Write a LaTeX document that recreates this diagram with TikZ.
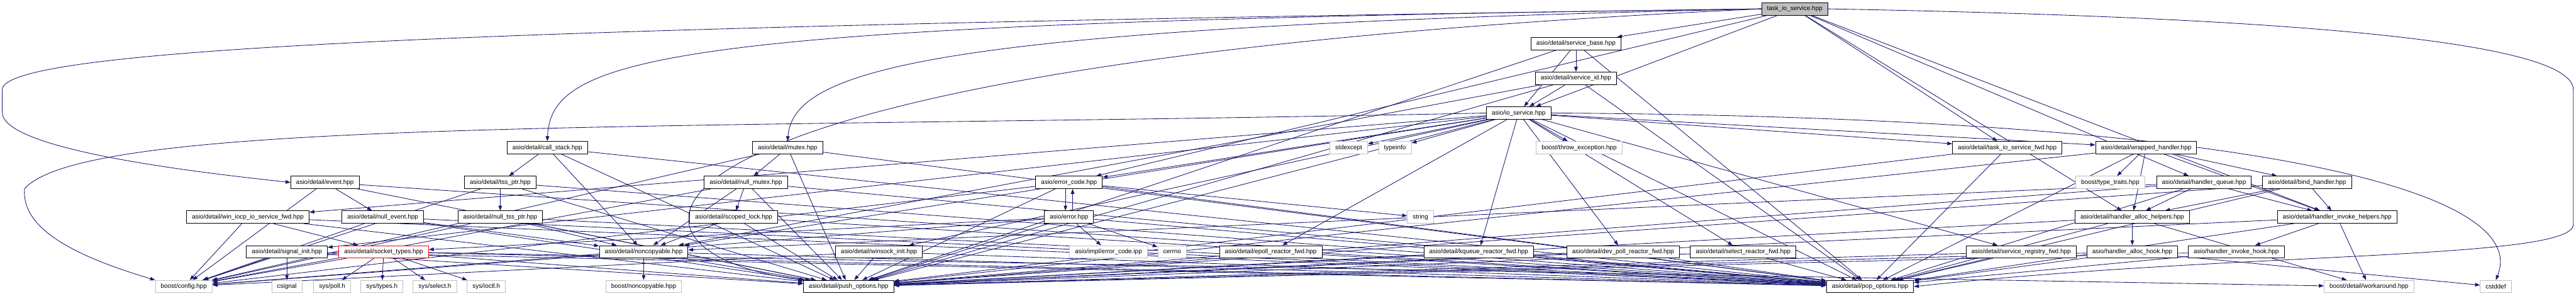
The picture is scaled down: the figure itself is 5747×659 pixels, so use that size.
\documentclass[tikz,border=0pt]{standalone}
\usepackage{fontspec}
\setmainfont{Liberation Sans}
\usetikzlibrary{arrows.meta,backgrounds}
\definecolor{depblue}{HTML}{191970}
\definecolor{extgray}{HTML}{BFBFBF}

\begin{document}
\begin{tikzpicture}[
    x=1pt, y=-1pt,
    font=\fontsize{14}{16}\selectfont,
    file/.style={draw=black, line width=1.3pt, fill=white, minimum height=27.7pt, inner xsep=12pt, inner ysep=0pt},
    extfile/.style={file, draw=extgray},
    cutfile/.style={file, draw=red},
    rootfile/.style={file, fill=extgray},
    dep/.style={-{Triangle[length=11pt, width=8pt]}, draw=depblue, line width=1.2pt}
  ]
    \useasboundingbox (0,0) rectangle (5747,659);

    \node[rootfile] (tios) at (4004,19.8) {task\_io\_service.hpp};
    \node[file] (sbase) at (3516,97) {asio/detail/service\_base.hpp};
    \node[file] (sid) at (3516,174.4) {asio/detail/service\_id.hpp};
    \node[file] (ios) at (3388,251.8) {asio/io\_service.hpp};

    \node[file] (cstack) at (1221,329) {asio/detail/call\_stack.hpp};
    \node[file] (mtx) at (1757,329) {asio/detail/mutex.hpp};
    \node[extfile] (stdexc) at (3009,329) {stdexcept};
    \node[extfile] (tinfo) at (3112,329) {typeinfo};
    \node[extfile] (throwexc) at (3523,329) {boost/throw\_exception.hpp};
    \node[file] (tiosfwd) at (4478,329) {asio/detail/task\_io\_service\_fwd.hpp};
    \node[file] (wraph) at (4788,329) {asio/detail/wrapped\_handler.hpp};

    \node[file] (evt) at (725,406.4) {asio/detail/event.hpp};
    \node[file] (tss) at (1116,406.4) {asio/detail/tss\_ptr.hpp};
    \node[file] (nmtx) at (1664,406.4) {asio/detail/null\_mutex.hpp};
    \node[file] (ecode) at (2385,406.4) {asio/error\_code.hpp};
    \node[extfile] (ttraits) at (4708,406.4) {boost/type\_traits.hpp};
    \node[file] (hqueue) at (4917,406.4) {asio/detail/handler\_queue.hpp};
    \node[file] (bindh) at (5147,406.4) {asio/detail/bind\_handler.hpp};

    \node[file] (iocpfwd) at (553,483.8) {asio/detail/win\_iocp\_io\_service\_fwd.hpp};
    \node[file] (nevt) at (854,483.8) {asio/detail/null\_event.hpp};
    \node[file] (ntss) at (1116,483.8) {asio/detail/null\_tss\_ptr.hpp};
    \node[file] (slock) at (1637,483.8) {asio/detail/scoped\_lock.hpp};
    \node[file] (err) at (2385,483.8) {asio/error.hpp};
    \node[extfile] (str) at (3169,483.8) {string};
    \node[file] (ahelp) at (4757,483.8) {asio/detail/handler\_alloc\_helpers.hpp};
    \node[file] (ihelp) at (5214,483.8) {asio/detail/handler\_invoke\_helpers.hpp};

    \node[file] (sinit) at (640,561) {asio/detail/signal\_init.hpp};
    \node[cutfile] (stypes) at (856,561) {asio/detail/socket\_types.hpp};
    \node[file] (noncp) at (1436,561) {asio/detail/noncopyable.hpp};
    \node[file] (winsock) at (1961,561) {asio/detail/winsock\_init.hpp};
    \node[extfile] (ecipp) at (2473,561) {asio/impl/error\_code.ipp};
    \node[extfile] (cerrno) at (2615,561) {cerrno};
    \node[file] (epollfwd) at (2835,561) {asio/detail/epoll\_reactor\_fwd.hpp};
    \node[file] (kqfwd) at (3299,561) {asio/detail/kqueue\_reactor\_fwd.hpp};
    \node[file] (devpollfwd) at (3621,561) {asio/detail/dev\_poll\_reactor\_fwd.hpp};
    \node[file] (selectfwd) at (3889,561) {asio/detail/select\_reactor\_fwd.hpp};
    \node[file] (sregfwd) at (4509,561) {asio/detail/service\_registry\_fwd.hpp};
    \node[file] (ahook) at (4757,561) {asio/handler\_alloc\_hook.hpp};
    \node[file] (ihook) at (4989,561) {asio/handler\_invoke\_hook.hpp};

    \node[extfile] (bcfg) at (410,638.5) {boost/config.hpp};
    \node[extfile] (csig) at (640,638.5) {csignal};
    \node[extfile] (spoll) at (741,638.5) {sys/poll.h};
    \node[extfile] (stypesh) at (852,638.5) {sys/types.h};
    \node[extfile] (ssel) at (970,638.5) {sys/select.h};
    \node[extfile] (sioctl) at (1085,638.5) {sys/ioctl.h};
    \node[extfile] (bnoncp) at (1436,638.5) {boost/noncopyable.hpp};
    \node[file] (push) at (1893,638.5) {asio/detail/push\_options.hpp};
    \node[file] (pop) at (4172,638.5) {asio/detail/pop\_options.hpp};
    \node[extfile] (wkaround) at (5285,638.5) {boost/detail/workaround.hpp};
    \node[extfile] (cstddef) at (5568,638.5) {cstddef};

    \begin{pgfonlayer}{background}
    \draw[dep] (tios) -- (sbase);
    \draw[dep] (tios) -- (ios);
    \draw[dep] (tios.west) .. controls (1500,50) and (1230,120) .. (cstack.north);
    \draw[dep] (tios.west) .. controls (1000,60) and (5,110) .. (5,200) -- (5,250) .. controls (5,330) and (400,380) .. (evt.west);
    \draw[dep] (tios.west) .. controls (2100,60) and (1770,150) .. (mtx.north);
    \draw[dep] (tios) -- (ecode);
    \draw[dep] (tios.west) .. controls (1300,140) and (1300,560) .. (push.north west);
    \draw[dep] (tios.east) .. controls (5200,40) and (5741,100) .. (5741,200) -- (5741,500) .. controls (5741,580) and (5000,560) .. (pop.east);
    \draw[dep] (tios) -- (tiosfwd);
    \draw[dep] (tios) -- (hqueue);
    \draw[dep] (tios) -- (ahelp);
    \draw[dep] (tios) -- (ihelp);

    \draw[dep] (ios) -- (push);
    \draw[dep] (ios.east) .. controls (5000,260) and (5650,420) .. (cstddef.north);
    \draw[dep] (ios) -- (stdexc);
    \draw[dep] (ios) -- (tinfo);
    \draw[dep] (ios.west) .. controls (1500,290) and (200,260) .. (55,420) .. controls (45,520) and (200,580) .. (bcfg.north west);
    \draw[dep] (ios) -- (throwexc);
    \draw[dep] (ios) -- (ecode);
    \draw[dep] (ios) -- (devpollfwd);
    \draw[dep] (ios) -- (epollfwd);
    \draw[dep] (ios) -- (kqfwd);
    \draw[dep] (ios) -- (noncp);
    \draw[dep] (ios) -- (selectfwd);
    \draw[dep] (ios) -- (sregfwd);
    \draw[dep] (ios) -- (sinit);
    \draw[dep] (ios) -- (tiosfwd);
    \draw[dep] (ios) -- (iocpfwd);
    \draw[dep] (ios) -- (winsock);
    \draw[dep] (ios) -- (wraph);
    \draw[dep] (ios) -- (pop);

    \draw[dep] (sbase) -- (push);
    \draw[dep] (sbase) -- (ios);
    \draw[dep] (sbase) -- (sid);
    \draw[dep] (sbase) -- (pop);
    \draw[dep] (sid) -- (push);
    \draw[dep] (sid) -- (noncp);
    \draw[dep] (sid) -- (ios);
    \draw[dep] (sid) -- (pop);

    \draw[dep] (cstack) -- (push);
    \draw[dep] (cstack) -- (noncp);
    \draw[dep] (cstack) -- (tss);
    \draw[dep] (cstack) -- (pop);
    \draw[dep] (tss) -- (push);
    \draw[dep] (tss) -- (bcfg);
    \draw[dep] (tss) -- (ntss);
    \draw[dep] (tss) -- (pop);
    \draw[dep] (ntss) -- (push);
    \draw[dep] (ntss) -- (bcfg);
    \draw[dep] (ntss) -- (noncp);
    \draw[dep] (ntss) -- (pop);

    \draw[dep] (mtx) -- (push);
    \draw[dep] (mtx) -- (bcfg);
    \draw[dep] (mtx) -- (nmtx);
    \draw[dep] (mtx) -- (pop);
    \draw[dep] (nmtx) -- (push);
    \draw[dep] (nmtx) -- (bcfg);
    \draw[dep] (nmtx) -- (noncp);
    \draw[dep] (nmtx) -- (slock);
    \draw[dep] (nmtx) -- (pop);
    \draw[dep] (slock) -- (push);
    \draw[dep] (slock) -- (noncp);
    \draw[dep] (slock) -- (pop);

    \draw[dep] (evt) -- (push);
    \draw[dep] (evt) -- (bcfg);
    \draw[dep] (evt) -- (nevt);
    \draw[dep] (evt) -- (pop);
    \draw[dep] (nevt) -- (push);
    \draw[dep] (nevt) -- (bcfg);
    \draw[dep] (nevt) -- (noncp);
    \draw[dep] (nevt) -- (pop);

    \draw[dep] (ecode) -- (push);
    \draw[dep] (ecode) -- (bcfg);
    \draw[dep] (ecode) -- (str);
    \draw[dep] ([xshift=-8pt]ecode.south) -- ([xshift=-8pt]err.north);
    \draw[dep] (ecode) -- (pop);
    \draw[dep] (err) -- (push);
    \draw[dep] (err) -- (bcfg);
    \draw[dep] (err) -- (cerrno);
    \draw[dep] ([xshift=8pt]err.north) -- ([xshift=8pt]ecode.south);
    \draw[dep] (err) -- (stypes);
    \draw[dep] (err) -- (ecipp);
    \draw[dep] (err) -- (pop);

    \draw[dep] (stypes) -- (push);
    \draw[dep] (stypes) -- (bcfg);
    \draw[dep] (stypes) -- (wkaround);
    \draw[dep] (stypes) -- (spoll);
    \draw[dep] (stypes) -- (stypesh);
    \draw[dep] (stypes) -- (ssel);
    \draw[dep] (stypes) -- (sioctl);
    \draw[dep] (stypes) -- (pop);
    \draw[dep] (sinit) -- (push);
    \draw[dep] (sinit) -- (bcfg);
    \draw[dep] (sinit) -- (csig);
    \draw[dep] (sinit) -- (pop);
    \draw[dep] (winsock) -- (push);
    \draw[dep] (winsock) -- (bcfg);
    \draw[dep] (winsock) -- (pop);
    \draw[dep] (noncp) -- (push);
    \draw[dep] (noncp) -- (bcfg);
    \draw[dep] (noncp) -- (bnoncp);
    \draw[dep] (noncp) -- (pop);
    \draw[dep] (iocpfwd) -- (push);
    \draw[dep] (iocpfwd) -- (bcfg);
    \draw[dep] (iocpfwd) -- (stypes);
    \draw[dep] (iocpfwd) -- (pop);

    \draw[dep] (epollfwd) -- (push);
    \draw[dep] (epollfwd) -- (pop);
    \draw[dep] (kqfwd) -- (push);
    \draw[dep] (kqfwd) -- (pop);
    \draw[dep] (devpollfwd) -- (push);
    \draw[dep] (devpollfwd) -- (pop);
    \draw[dep] (selectfwd) -- (push);
    \draw[dep] (selectfwd) -- (pop);
    \draw[dep] (sregfwd) -- (push);
    \draw[dep] (sregfwd) -- (pop);
    \draw[dep] (tiosfwd) -- (push);
    \draw[dep] (tiosfwd) -- (pop);

    \draw[dep] (wraph) -- (push);
    \draw[dep] (wraph) -- (ttraits);
    \draw[dep] (wraph) -- (bindh);
    \draw[dep] (wraph) -- (ahelp);
    \draw[dep] (wraph) -- (ihelp);
    \draw[dep] (wraph) -- (pop);
    \draw[dep] (hqueue) -- (push);
    \draw[dep] (hqueue) -- (ahelp);
    \draw[dep] (hqueue) -- (ihelp);
    \draw[dep] (hqueue) -- (noncp);
    \draw[dep] (hqueue) -- (pop);
    \draw[dep] (bindh) -- (push);
    \draw[dep] (bindh) -- (ahelp);
    \draw[dep] (bindh) -- (ihelp);
    \draw[dep] (bindh) -- (pop);

    \draw[dep] (ahelp) -- (push);
    \draw[dep] (ahelp) -- (wkaround);
    \draw[dep] (ahelp) -- (ahook);
    \draw[dep] (ahelp) -- (pop);
    \draw[dep] (ihelp) -- (push);
    \draw[dep] (ihelp) -- (wkaround);
    \draw[dep] (ihelp) -- (ihook);
    \draw[dep] (ihelp) -- (pop);
    \draw[dep] (ahook) -- (push);
    \draw[dep] (ahook) -- (cstddef);
    \draw[dep] (ahook) -- (pop);
    \draw[dep] (ihook) -- (push);
    \draw[dep] (ihook) -- (pop);
    \end{pgfonlayer}
  \end{tikzpicture}
\end{document}
